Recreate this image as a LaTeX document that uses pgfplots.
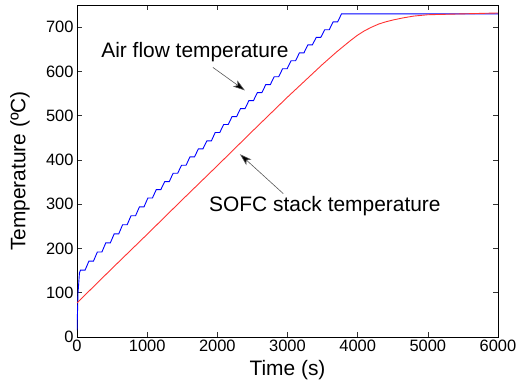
\documentclass[border=0pt]{standalone}
\usepackage{fontspec}
\setmainfont{Liberation Sans}
\usepackage{pgfplots}
\pgfplotsset{compat=1.18}
\usetikzlibrary{arrows.meta}
\begin{document}
\begin{tikzpicture}
\begin{axis}[
  scale only axis,
  width=421bp, height=332bp,
  xmin=0, xmax=6000, ymin=0, ymax=750,
  xtick={0,1000,2000,3000,4000,5000,6000},
  ytick={0,100,200,300,400,500,600,700},
  tick align=inside,
  major tick length=5bp,
  scaled x ticks=false,
  /pgf/number format/assume math mode=true,
  /pgf/number format/1000 sep={},
  tick label style={font=\fontsize{16.5}{18}\selectfont},
  label style={font=\fontsize{21}{24}\selectfont},
  xlabel={Time (s)},
  ylabel={Temperature (ºC)},
  xlabel style={at={(axis description cs:0.5,-0.0994)}, anchor=center},
  ylabel style={at={(axis description cs:-0.1354,0.5)}, anchor=center, rotate=0},
  axis line style={black, line width=0.6bp},
  every tick/.style={black!80, line width=0.5bp},
  clip=true,
]
% Air flow temperature (blue staircase)
\addplot[blue, line width=0.9bp] coordinates {
(0,15) (15,100) (35,145) (50,151)
(115,151) (170,171.5) (235,171.5) (290,192) (355,192) (410,212.6)
(475,212.6) (530,233) (595,233) (650,253.6) (715,253.6) (770,274)
(835,274) (890,294) (955,294) (1010,314) (1075,314) (1130,333)
(1195,333) (1250,351) (1315,351) (1370,370) (1435,370) (1490,388)
(1555,388) (1610,407) (1675,407) (1730,425) (1795,425) (1850,443)
(1915,443) (1970,462) (2035,462) (2090,480) (2155,480) (2210,498)
(2275,498) (2330,516) (2395,516) (2450,534) (2515,534) (2570,552)
(2635,552) (2690,570) (2755,570) (2810,588) (2875,588) (2930,606)
(2995,606) (3050,624) (3115,624) (3170,642) (3235,642) (3290,660)
(3355,660) (3410,677) (3475,677) (3530,694) (3595,694) (3650,712)
(3715,712) (3770,730) (6000,730)
};
% SOFC stack temperature (red)
\addplot[red!80!white, line width=0.9bp] coordinates {
(0,77) (500,155) (1000,232) (1500,310) (2000,387) (2500,465)
(3000,542) (3500,616) (3700,644) (3800,657) (3900,670) (4000,682)
(4100,692) (4200,700) (4300,707) (4400,712) (4500,716) (4650,721)
(4800,725) (5000,728) (5500,730) (6000,732)
};
\node[font=\fontsize{21}{24}\selectfont] at (axis cs:1681,643) {Air flow temperature};
\node[font=\fontsize{21}{24}\selectfont] at (axis cs:3533,296) {SOFC stack temperature};
\draw[gray!70!black, line width=0.6bp, -{Stealth[length=12bp,width=7.5bp,inset=3bp,fill=black]}] (axis cs:1937,609) -- (axis cs:2393,557);
\draw[gray!70!black, line width=0.6bp, -{Stealth[length=12bp,width=7.5bp,inset=3bp,fill=black]}] (axis cs:2939,324) -- (axis cs:2322,413);
\end{axis}
\pgfresetboundingbox
\path[use as bounding box] (-77bp,-53bp) rectangle (442bp,337bp);
\end{tikzpicture}
\end{document}
